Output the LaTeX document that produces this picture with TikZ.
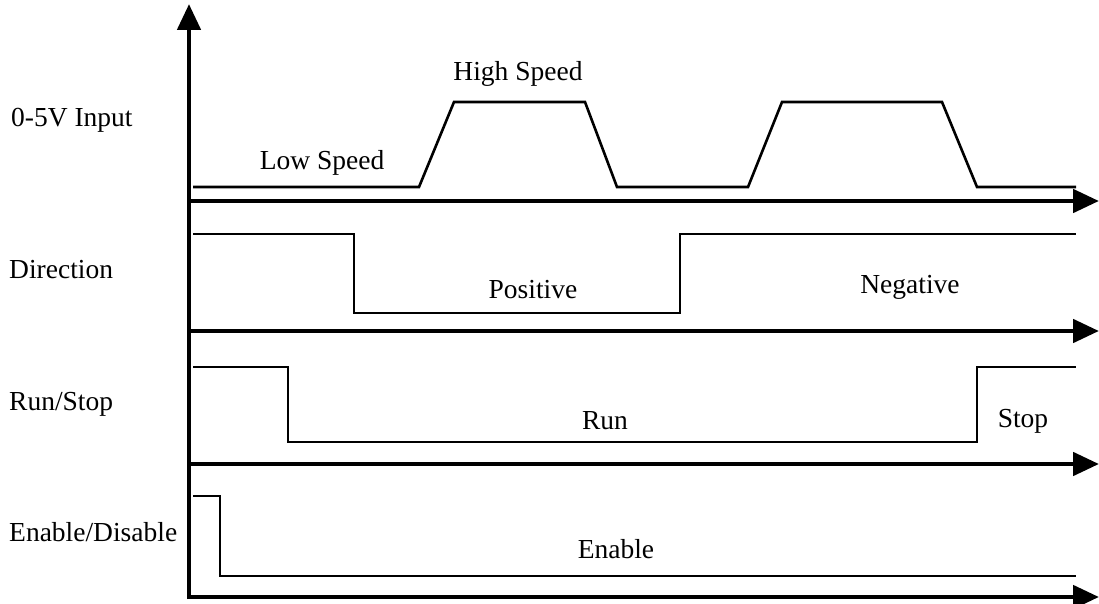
\documentclass[tikz,border=0pt]{standalone}
\usepackage{fontspec}
\setmainfont{Liberation Serif}
\usetikzlibrary{arrows.meta}
\begin{document}
\begin{tikzpicture}[x=1pt,y=-1pt,
  axis/.style={line width=4.8pt,-{Triangle[length=26pt,width=23pt]}},
  sig/.style={line width=2.6pt,line join=miter},
  lbl/.style={font=\fontsize{27.5}{32}\selectfont,inner sep=0pt},
  side/.style={lbl,anchor=west}]
\useasboundingbox (0,0) rectangle (1099,604);
% axes
\coordinate (o) at (189,599);
\coordinate (ytop) at (189,4);
\draw[axis] (o) -- (ytop);
\foreach \n/\y in {a1/201,a2/331,a3/464,a4/597}{
  \coordinate (\n s) at (187,\y);
  \coordinate (\n e) at (1099,\y);
  \draw[axis] (\n s) -- (\n e);
}
% signals
\draw[sig] (193,187) -- (419,187) -- (454,102) -- (585,102) -- (617,187) -- (748,187) -- (782,102) -- (942,102) -- (977,187) -- (1076,187);
\draw[sig] (193,234) -- (354,234) -- (354,313) -- (680,313) -- (680,234) -- (1076,234);
\draw[sig] (193,367) -- (288,367) -- (288,442) -- (977,442) -- (977,367) -- (1076,367);
\draw[sig] (193,496) -- (220,496) -- (220,576) -- (1076,576);
% labels
\node[side] (l1) at (11,120) {0-5V Input};
\node[lbl] (l2) at (322,163) {Low Speed};
\node[lbl] (l3) at (518,74) {High Speed};
\node[side] (l4) at (9,270) {Direction};
\node[lbl] (l5) at (533,290) {Positive};
\node[lbl] (l6) at (910,287) {Negative};
\node[side] (l7) at (9,404) {Run/Stop};
\node[lbl] (l8) at (605,421) {Run};
\node[lbl] (l9) at (1023,421) {Stop};
\node[side] (l10) at (9,532) {Enable/Disable};
\node[lbl] (l11) at (616,549) {Enable};
\end{tikzpicture}
\end{document}
